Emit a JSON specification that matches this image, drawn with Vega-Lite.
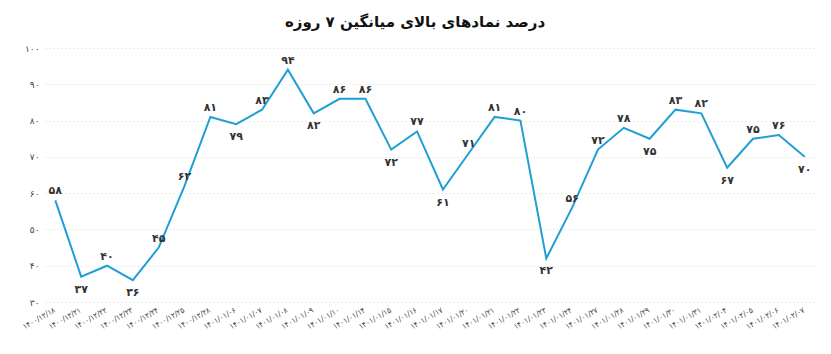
{
  "$schema": "https://vega.github.io/schema/vega-lite/v6.json",
  "width": 770,
  "height": 254,
  "autosize": {"type": "none"},
  "padding": {"left": 45, "top": 48, "right": 16, "bottom": 52},
  "background": "white",
  "title": {
    "text": "درصد نمادهای بالای میانگین ۷ روزه",
    "font": "DejaVu Sans",
    "fontSize": 15,
    "fontWeight": "bold",
    "color": "#111111",
    "offset": 14,
    "dx": -15
  },
  "config": {
    "view": {"stroke": null},
    "font": "DejaVu Sans"
  },
  "data": {
    "values": [
      {"date": "۱۴۰۰/۱۲/۱۸", "v": 58},
      {"date": "۱۴۰۰/۱۲/۲۱", "v": 37},
      {"date": "۱۴۰۰/۱۲/۲۲", "v": 40},
      {"date": "۱۴۰۰/۱۲/۲۳", "v": 36},
      {"date": "۱۴۰۰/۱۲/۲۴", "v": 45},
      {"date": "۱۴۰۰/۱۲/۲۵", "v": 62},
      {"date": "۱۴۰۰/۱۲/۲۸", "v": 81},
      {"date": "۱۴۰۱/۰۱/۰۶", "v": 79},
      {"date": "۱۴۰۱/۰۱/۰۷", "v": 83},
      {"date": "۱۴۰۱/۰۱/۰۸", "v": 94},
      {"date": "۱۴۰۱/۰۱/۰۹", "v": 82},
      {"date": "۱۴۰۱/۰۱/۱۰", "v": 86},
      {"date": "۱۴۰۱/۰۱/۱۴", "v": 86},
      {"date": "۱۴۰۱/۰۱/۱۵", "v": 72},
      {"date": "۱۴۰۱/۰۱/۱۶", "v": 77},
      {"date": "۱۴۰۱/۰۱/۱۷", "v": 61},
      {"date": "۱۴۰۱/۰۱/۲۰", "v": 71},
      {"date": "۱۴۰۱/۰۱/۲۱", "v": 81},
      {"date": "۱۴۰۱/۰۱/۲۲", "v": 80},
      {"date": "۱۴۰۱/۰۱/۲۳", "v": 42},
      {"date": "۱۴۰۱/۰۱/۲۴", "v": 56},
      {"date": "۱۴۰۱/۰۱/۲۷", "v": 72},
      {"date": "۱۴۰۱/۰۱/۲۸", "v": 78},
      {"date": "۱۴۰۱/۰۱/۲۹", "v": 75},
      {"date": "۱۴۰۱/۰۱/۳۰", "v": 83},
      {"date": "۱۴۰۱/۰۱/۳۱", "v": 82},
      {"date": "۱۴۰۱/۰۲/۰۴", "v": 67},
      {"date": "۱۴۰۱/۰۲/۰۵", "v": 75},
      {"date": "۱۴۰۱/۰۲/۰۶", "v": 76},
      {"date": "۱۴۰۱/۰۲/۰۷", "v": 70}
    ]
  },
  "transform": [
    {"window": [{"op": "lag", "field": "v", "as": "prev"}, {"op": "lead", "field": "v", "as": "next"}]},
    {"calculate": "datum.prev != null && datum.v < datum.prev && (datum.next == null || datum.v < datum.next)", "as": "below"},
    {"calculate": "replace(replace(replace(replace(replace(replace(replace(replace(replace(replace(toString(datum.v), regexp('0','g'), '۰'), regexp('1','g'), '۱'), regexp('2','g'), '۲'), regexp('3','g'), '۳'), regexp('4','g'), '۴'), regexp('5','g'), '۵'), regexp('6','g'), '۶'), regexp('7','g'), '۷'), regexp('8','g'), '۸'), regexp('9','g'), '۹')", "as": "lbl"}
  ],
  "encoding": {
    "x": {
      "field": "date",
      "type": "ordinal",
      "sort": null,
      "scale": {"type": "point", "padding": 0.4},
      "axis": {
        "title": null,
        "domain": false,
        "ticks": false,
        "labelAngle": -30,
        "labelFont": "DejaVu Sans Condensed",
        "labelFontSize": 8,
        "labelColor": "#444444",
        "labelPadding": 4,
        "labelOffset": -3,
        "labelOverlap": false
      }
    },
    "y": {
      "field": "v",
      "type": "quantitative",
      "scale": {"domain": [30, 100], "nice": false, "zero": false},
      "axis": {
        "title": null,
        "domain": false,
        "ticks": false,
        "values": [30, 40, 50, 60, 70, 80, 90, 100],
        "labelExpr": "replace(replace(replace(replace(replace(replace(replace(replace(replace(replace(datum.label, regexp('0','g'), '۰'), regexp('1','g'), '۱'), regexp('2','g'), '۲'), regexp('3','g'), '۳'), regexp('4','g'), '۴'), regexp('5','g'), '۵'), regexp('6','g'), '۶'), regexp('7','g'), '۷'), regexp('8','g'), '۸'), regexp('9','g'), '۹')",
        "labelFontSize": 9,
        "labelColor": "#444444",
        "labelPadding": 6,
        "gridColor": "#d9d9d9",
        "gridDash": [1, 3],
        "gridWidth": 1
      }
    }
  },
  "layer": [
    {
      "mark": {"type": "line", "color": "#1f9fd4", "strokeWidth": 2}
    },
    {
      "transform": [{"filter": "!datum.below"}],
      "mark": {"type": "text", "dy": -9, "fontSize": 11, "fontWeight": "bold", "color": "#333333"},
      "encoding": {"text": {"field": "lbl"}}
    },
    {
      "transform": [{"filter": "datum.below"}],
      "mark": {"type": "text", "dy": 13, "fontSize": 11, "fontWeight": "bold", "color": "#333333"},
      "encoding": {"text": {"field": "lbl"}}
    }
  ]
}
